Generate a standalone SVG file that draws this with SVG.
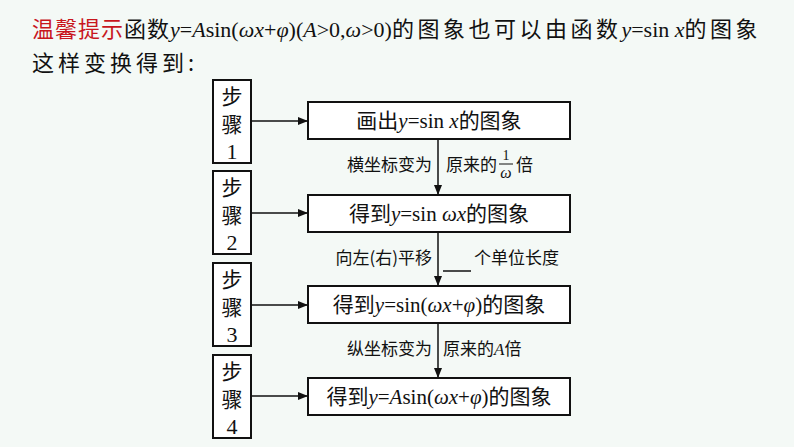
<svg xmlns="http://www.w3.org/2000/svg" width="794" height="447" viewBox="0 0 794 447">
<style>
text{font-family:"Liberation Serif","Noto Sans CJK SC",serif;fill:#111}
.cn{font-family:"Noto Sans CJK SC",sans-serif}
.b{fill:#fff;stroke:#111;stroke-width:2}
.l{stroke:#111;stroke-width:1.5;fill:none}
</style>
<defs><marker id="a" markerWidth="10" markerHeight="8" refX="9" refY="4" orient="auto" markerUnits="userSpaceOnUse"><path d="M0,0L10,4L0,8z" fill="#111"/></marker></defs>
<rect width="794" height="447" fill="#f4f9f6"/>
<text x="32" y="37" font-size="22"><tspan class="cn" style="fill:#c8161d" letter-spacing="1">温馨提示</tspan><tspan class="cn" letter-spacing="1">函数</tspan><tspan font-style="italic">y</tspan>=<tspan font-style="italic">A</tspan>sin(<tspan font-style="italic">ωx</tspan>+<tspan font-style="italic">φ</tspan>)(<tspan font-style="italic">A</tspan>&gt;0,<tspan font-style="italic">ω</tspan>&gt;0)<tspan class="cn" letter-spacing="3.5">的图象也可以由函数</tspan><tspan font-style="italic">y</tspan>=sin <tspan font-style="italic">x</tspan><tspan class="cn" letter-spacing="3.5">的图象</tspan></text>
<text x="32" y="71" font-size="22" class="cn" letter-spacing="4">这样变换得到:</text>
<g id="s1"><rect class="b" x="213" y="80" width="38" height="83"/><text x="232" y="104" font-size="21" text-anchor="middle" class="cn">步</text><text x="232" y="132" font-size="21" text-anchor="middle" class="cn">骤</text><text x="232" y="159" font-size="22" text-anchor="middle">1</text></g>
<g id="s2"><rect class="b" x="213" y="171" width="38" height="83"/><text x="232" y="195" font-size="21" text-anchor="middle" class="cn">步</text><text x="232" y="223" font-size="21" text-anchor="middle" class="cn">骤</text><text x="232" y="250" font-size="22" text-anchor="middle">2</text></g>
<g id="s3"><rect class="b" x="213" y="263" width="38" height="83"/><text x="232" y="287" font-size="21" text-anchor="middle" class="cn">步</text><text x="232" y="315" font-size="21" text-anchor="middle" class="cn">骤</text><text x="232" y="342" font-size="22" text-anchor="middle">3</text></g>
<g id="s4"><rect class="b" x="213" y="355" width="38" height="83"/><text x="232" y="379" font-size="21" text-anchor="middle" class="cn">步</text><text x="232" y="407" font-size="21" text-anchor="middle" class="cn">骤</text><text x="232" y="434" font-size="22" text-anchor="middle">4</text></g>
<g id="n1"><rect class="b" x="308" y="102" width="262" height="37"/><text x="439" y="128" font-size="21" text-anchor="middle"><tspan class="cn">画出</tspan><tspan font-style="italic">y</tspan>=sin <tspan font-style="italic">x</tspan><tspan class="cn">的图象</tspan></text></g>
<g id="n2"><rect class="b" x="308" y="195" width="262" height="37"/><text x="439" y="221" font-size="21" text-anchor="middle"><tspan class="cn">得到</tspan><tspan font-style="italic">y</tspan>=sin <tspan font-style="italic">ωx</tspan><tspan class="cn">的图象</tspan></text></g>
<g id="n3"><rect class="b" x="308" y="286" width="262" height="37"/><text x="439" y="312" font-size="21" text-anchor="middle"><tspan class="cn">得到</tspan><tspan font-style="italic">y</tspan>=sin(<tspan font-style="italic">ωx</tspan>+<tspan font-style="italic">φ</tspan>)<tspan class="cn">的图象</tspan></text></g>
<g id="n4"><rect class="b" x="308" y="378" width="262" height="37"/><text x="439" y="404" font-size="21" text-anchor="middle"><tspan class="cn">得到</tspan><tspan font-style="italic">y</tspan>=<tspan font-style="italic">A</tspan>sin(<tspan font-style="italic">ωx</tspan>+<tspan font-style="italic">φ</tspan>)<tspan class="cn">的图象</tspan></text></g>
<g id="connectors">
<line class="l" x1="251" y1="121" x2="307" y2="121" marker-end="url(#a)"/>
<line class="l" x1="251" y1="213" x2="307" y2="213" marker-end="url(#a)"/>
<line class="l" x1="251" y1="305" x2="307" y2="305" marker-end="url(#a)"/>
<line class="l" x1="251" y1="396" x2="307" y2="396" marker-end="url(#a)"/>
<line class="l" x1="438" y1="139" x2="438" y2="194" marker-end="url(#a)"/>
<line class="l" x1="438" y1="232" x2="438" y2="285" marker-end="url(#a)"/>
<line class="l" x1="438" y1="323" x2="438" y2="377" marker-end="url(#a)"/>
<line class="l" x1="443" y1="271" x2="471" y2="271"/>
</g>
<g font-size="17">
<text x="432" y="171" text-anchor="end" class="cn">横坐标变为</text>
<text x="446" y="171" class="cn">原来的</text>
<text x="506" y="160" font-size="14" text-anchor="middle">1</text>
<line x1="499" y1="164" x2="513" y2="164" stroke="#111" stroke-width="1"/>
<text x="506" y="178" font-size="16" text-anchor="middle" font-style="italic">ω</text>
<text x="516" y="171" class="cn">倍</text>
<text x="432" y="264" text-anchor="end" class="cn">向左(右)平移</text>
<text x="474" y="264" class="cn">个单位长度</text>
<text x="432" y="355" text-anchor="end" class="cn">纵坐标变为</text>
<text x="443" y="355"><tspan class="cn">原来的</tspan><tspan font-style="italic">A</tspan><tspan class="cn">倍</tspan></text>
</g>
</svg>
